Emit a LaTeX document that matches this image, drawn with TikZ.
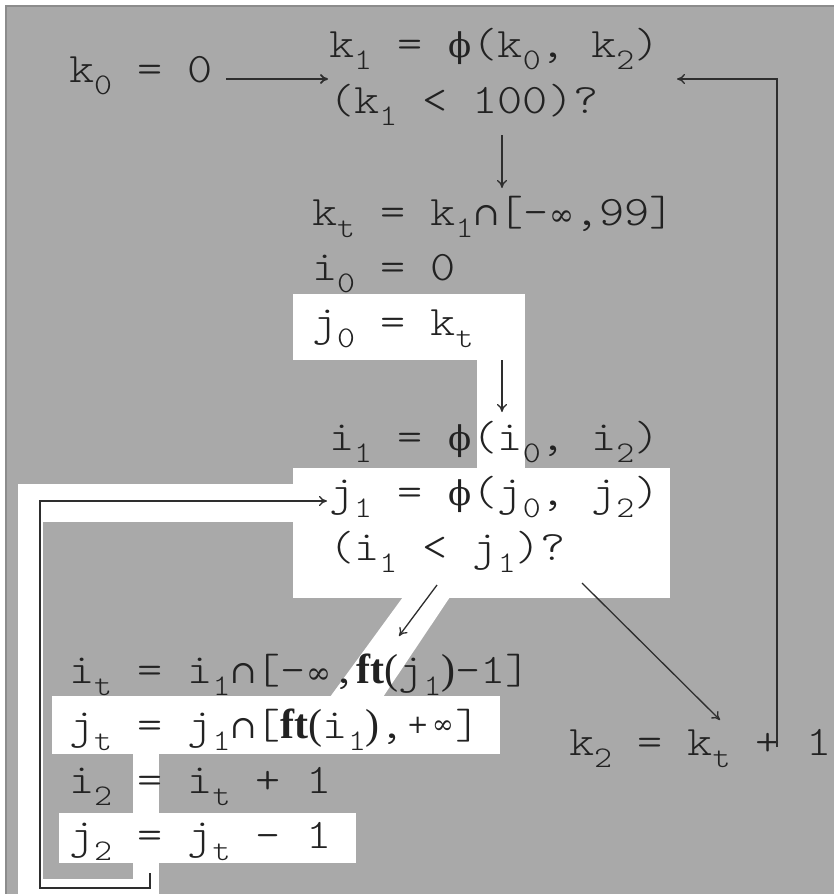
\documentclass[tikz,border=0pt]{standalone}
\usepackage{fontspec}
\newfontfamily\cour[Extension=.otf, FakeStretch=1.14]{lmmonolt10-regular}
\newfontfamily\tms{Liberation Serif}
\newfontfamily\symf{DejaVu Serif}
\usetikzlibrary{arrows.meta}
\definecolor{bg}{HTML}{A9A9A9}
\definecolor{edge}{HTML}{8C8C8C}
\definecolor{ink}{HTML}{222222}
\definecolor{wire}{HTML}{2E2E2E}
\newcommand\subx[1]{\raisebox{-12pt}{\fontsize{30}{30}\selectfont #1}}
\newcommand\symslot[2][34]{\makebox[25.2pt]{\fontsize{#1}{#1}\selectfont\symf #2}}
\newcommand\smallch[1]{\makebox[25.2pt]{\raisebox{5pt}{\fontsize{26}{26}\selectfont\symf #1}}}
\newcommand\phix{\symslot{ϕ}}
\newcommand\capx{\symslot[32]{∩}}
\newcommand\infx{\symslot[30]{∞}}
\newcommand\ftb{{\tms\bfseries ft}}
\newcommand\tp[1]{{\tms #1}}
\begin{document}
\begin{tikzpicture}[x=1pt,y=-1pt,
  txt/.style={anchor=base west, inner sep=0pt, outer sep=0pt, font=\cour\fontsize{42}{50}\selectfont, text=ink},
  hl/.style={fill=white, draw=none},
  arr/.style={draw=wire, line width=1.3pt, -{To[length=8pt,width=10pt]}},
  wireline/.style={draw=wire, line width=1.3pt}]
\useasboundingbox (0,0) rectangle (834,894);
\fill[white] (0,0) rectangle (834,894);
\fill[bg] (6,6) rectangle (834,894);
\draw[edge, line width=1.5pt] (6,894) -- (6,6) -- (834,6);
% white highlight regions
\fill[hl] (293,294) rectangle (525,360);
\fill[hl] (477,359) rectangle (525,469);
\fill[hl] (293,468) rectangle (670,598);
\fill[hl] (18,484) rectangle (294,522);
\fill[hl] (18,484) rectangle (43,894);
\fill[hl] (18,879) rectangle (159,894);
\fill[hl] (133,753) rectangle (159,894);
\fill[hl] (403,597) -- (450,597) -- (383,697) -- (330,697) -- cycle;
\fill[hl] (52,696) rectangle (500,754);
\fill[hl] (59,813) rectangle (356,863);
% text lines
\node[txt] (k0) at (69,82) {k\subx{0} = 0};
\node[txt] (k1) at (329,57) {k\subx{1} = \phix(k\subx{0}, k\subx{2})};
\node[txt] (kc) at (329,113) {(k\subx{1} < 100)?};
\node[txt] (kt) at (312,225) {k\subx{t} = k\subx{1}\capx[-\infx,99]};
\node[txt] (i0) at (312,280) {i\subx{0} = 0};
\node[txt] (j0) at (312,335) {j\subx{0} = k\subx{t}};
\node[txt] (i1) at (329,450) {i\subx{1} = \phix(i\subx{0}, i\subx{2})};
\node[txt] (j1) at (329,505) {j\subx{1} = \phix(j\subx{0}, j\subx{2})};
\node[txt] (ic) at (329,560) {(i\subx{1} < j\subx{1})?};
\node[txt] (it) at (69,683) {i\subx{t} = i\subx{1}\capx[-\infx,\ftb\tp{(}j\subx{1}\tp{)}-1]};
\node[txt] (jt) at (69,738) {j\subx{t} = j\subx{1}\capx[\ftb\tp{(}i\subx{1}\tp{)},\smallch{+}\smallch{∞}]};
\node[txt] (i2) at (69,793) {i\subx{2} = i\subx{t} + 1};
\node[txt] (j2) at (69,848) {j\subx{2} = j\subx{t} - 1};
\node[txt] (k2) at (569,755) {k\subx{2} = k\subx{t} + 1};
% connector end points
\coordinate (a1s) at (226,79);  \coordinate (a1e) at (328,79);
\coordinate (a2s) at (777,747); \coordinate (a2c) at (777,79); \coordinate (a2e) at (677,79);
\coordinate (a3s) at (502,135); \coordinate (a3e) at (502,188);
\coordinate (a4s) at (502,360); \coordinate (a4e) at (502,412);
\coordinate (a5s) at (437,585); \coordinate (a5e) at (399,636);
\coordinate (a6s) at (582,583); \coordinate (a6e) at (720,720);
\coordinate (a7s) at (150,873); \coordinate (a7b) at (150,888);
\coordinate (a7c) at (40,888);  \coordinate (a7d) at (40,501); \coordinate (a7e) at (327,501);
% connectors
\draw[arr, line width=1.8pt] (a1s) -- (a1e);
\draw[arr] (a2s) -- (a2c) -- (a2e);
\draw[arr] (a3s) -- (a3e);
\draw[arr] (a4s) -- (a4e);
\draw[arr] (a5s) -- (a5e);
\draw[arr] (a6s) -- (a6e);
\draw[arr] (a7s) -- (a7b) -- (a7c) -- (a7d) -- (a7e);
\end{tikzpicture}
\end{document}
